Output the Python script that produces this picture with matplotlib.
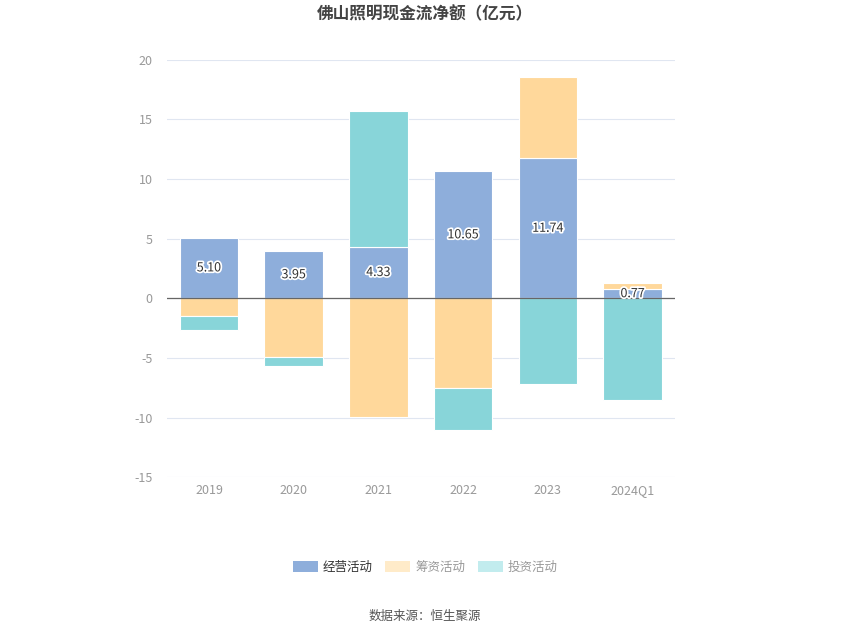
import numpy as np
import matplotlib.pyplot as plt
import matplotlib.patheffects as pe
from matplotlib.patches import Patch

plt.rcParams['font.family'] = ['Noto Sans CJK SC', 'DejaVu Sans']
plt.rcParams['axes.unicode_minus'] = False

years = ['2019', '2020', '2021', '2022', '2023', '2024Q1']
operating = [5.10, 3.95, 4.33, 10.65, 11.74, 0.77]
financing = [-1.45, -4.93, -9.97, -7.56, 6.82, 0.52]
investing = [-1.18, -0.78, 11.37, -3.47, -7.16, -8.56]

names = ['经营活动', '筹资活动', '投资活动']
colors = ['#8eaedb', '#ffd89b', '#88d5d9']
legend_colors = ['#8eaedb', '#ffebc9', '#c2ecee']

fig = plt.figure(figsize=(8.5, 6.37), dpi=100)
ax = fig.add_axes([0.196, 0.251, 0.598, 0.655])

x = np.arange(len(years))
pos_base = np.zeros(len(years))
neg_base = np.zeros(len(years))
for vals, c in zip([operating, financing, investing], colors):
    vals = np.array(vals)
    base = np.where(vals >= 0, pos_base, neg_base)
    ax.bar(x, vals, bottom=base, width=0.69, color=c, edgecolor='white', linewidth=0.8, zorder=3)
    pos_base = pos_base + np.where(vals >= 0, vals, 0)
    neg_base = neg_base + np.where(vals < 0, vals, 0)

# value labels on operating segment
for i, v in enumerate(operating):
    ax.text(x[i], v / 2, '%.2f' % v, ha='center', va='center', fontsize=9, color='#333333', zorder=5,
            path_effects=[pe.withStroke(linewidth=2.5, foreground='white')])

ax.axhline(0, color='#666666', linewidth=0.9, zorder=4)
ax.set_ylim(-15, 20)
ax.set_yticks(range(-15, 21, 5))
ax.set_xlim(-0.5, len(years) - 0.5)
ax.set_xticks(x)
ax.set_xticklabels(years)
ax.yaxis.grid(True, color='#e0e6f1', linewidth=0.8, zorder=0)
ax.tick_params(axis='both', length=0, labelsize=9, colors='#999999')
ax.tick_params(axis='x', pad=5)
ax.tick_params(axis='y', pad=10)
for s in ax.spines.values():
    s.set_visible(False)

fig.text(0.5, 0.978, '佛山照明现金流净额（亿元）', ha='center', va='center', fontsize=12,
         fontweight='bold', color='#444444')

handles = [Patch(facecolor=c, edgecolor='none') for c in legend_colors]
leg = fig.legend(handles, names, loc='center', bbox_to_anchor=(0.5, 0.109), ncol=3, frameon=False,
                 fontsize=9, handlelength=2.0, handleheight=1.0, columnspacing=1.0, handletextpad=0.4)
for t, c in zip(leg.get_texts(), ['#333333', '#999999', '#999999']):
    t.set_color(c)

fig.text(0.5, 0.033, '数据来源：恒生聚源', ha='center', va='center', fontsize=9, color='#555555')

fig.savefig('out.png', dpi=100)
